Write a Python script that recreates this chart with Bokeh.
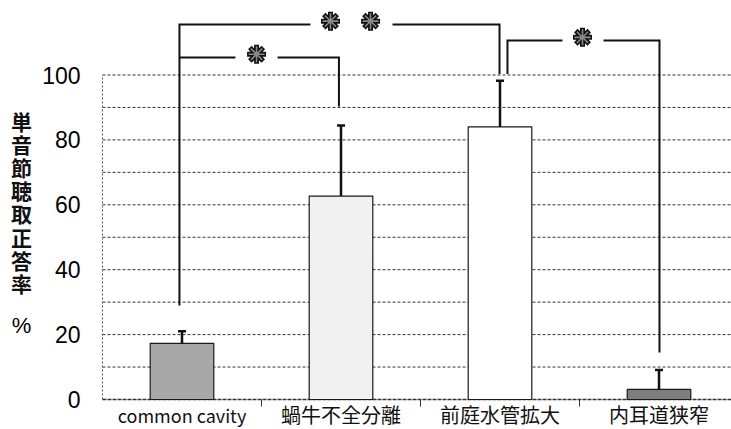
from bokeh.plotting import figure
from bokeh.models import Range1d, ColumnDataSource
from bokeh.core.properties import value
from bokeh.embed import file_html
from bokeh.resources import INLINE

# Mean monosyllable recognition score (%) per inner-ear malformation, with upper SD
categories = ["common cavity", "蝸牛不全分離", "前庭水管拡大", "内耳道狭窄"]
means = [17.3, 62.7, 84.0, 3.1]
upper = [21.0, 84.4, 98.2, 9.1]
bar_colors = ["#a8a8a8", "#f1f1f1", "#ffffff", "#7e7e7e"]
label_sizes = ["18px", "20px", "20px", "20px"]

y_ticks = [0, 20, 40, 60, 80, 100]
grid_ticks = [10, 20, 30, 40, 50, 60, 70, 80, 90, 100]
y_title_chars = list("単音節聴取正答率")
y_unit = "%"

# Significance brackets: number of stars, span, height, leg ends, gap for stars
stars = [2, 1, 1]
bracket_x0 = [0.484, 0.484, 2.547]
bracket_x1 = [2.497, 1.487, 3.503]
bracket_y = [115.6, 105.4, 110.6]
bracket_y0 = [29.0, 105.4, 100.3]
bracket_y1 = [100.3, 90.3, 14.5]
gap_x0 = [1.308, 0.836, 2.893]
gap_x1 = [1.824, 1.101, 3.151]
star_x = [[1.434, 1.686], [0.969], [3.019]]

n = len(categories)
xs = [i + 0.5 for i in range(n)]

# Canvas geometry: the plotting frame fills the whole page, axes are drawn by hand
W, H = 731, 429
X0_PX, PX_PER_CAT = 102, 159      # canvas column of x = 0, pixels per category
Y0_PX, PX_PER_UNIT = 399, 3.245   # canvas row of y = 0, pixels per percentage point


def x_at(col):
    return (col - X0_PX) / PX_PER_CAT


def y_at(row):
    return (Y0_PX - row) / PX_PER_UNIT


p = figure(width=W, height=H, output_backend="svg", toolbar_location=None,
           x_axis_location=None, y_axis_location=None,
           x_range=Range1d(x_at(0), x_at(W)), y_range=Range1d(y_at(H), y_at(0)),
           min_border=0)
p.outline_line_color = None
p.grid.visible = False
p.background_fill_color = "white"
p.border_fill_color = "white"

x_end = x_at(W)

# horizontal grid lines
p.segment(x0=[0] * len(grid_ticks), y0=grid_ticks, x1=[x_end] * len(grid_ticks),
          y1=grid_ticks, line_color="#333333", line_dash="3 2", line_width=1)

# dotted left border and bottom axis line
p.segment(x0=[0], y0=[0], x1=[0], y1=[y_ticks[-1]], line_color="#555555",
          line_dash="2 2", line_width=1)
p.segment(x0=[0], y0=[0], x1=[x_end], y1=[0], line_color="#333333",
          line_dash="4 1", line_width=1.5)

# category separators below the axis
seps = list(range(1, n))
p.segment(x0=seps, y0=[0] * len(seps), x1=seps, y1=[-7 / PX_PER_UNIT] * len(seps),
          line_color="#333333", line_width=1)

# y tick labels
p.text(x=[x_at(80)] * len(y_ticks), y=y_ticks, text=[str(t) for t in y_ticks],
       text_align="right", text_baseline="middle",
       text_font=value("Liberation Sans"), text_font_size=value("23px"),
       text_color="#000000")

# bars
src = ColumnDataSource(dict(x=xs, top=means, upper=upper, color=bar_colors,
                            name=categories, size=label_sizes))
p.vbar(x="x", top="top", bottom=0, width=0.40, fill_color="color",
       line_color="#1a1a1a", line_width=1.2, source=src)

# upper error bars
p.segment(x0="x", y0="top", x1="x", y1="upper", line_color="#111111",
          line_width=2.5, source=src)
p.scatter(x="x", y="upper", marker="dash", size=8, line_color="#111111",
          line_width=2.5, source=src)

# category names under the axis
p.text(x="x", y=y_at(414), text="name", text_align="center", text_baseline="middle",
       text_font=value("Noto Sans CJK JP"), text_font_size="size",
       text_color="#111111", source=src)

# significance brackets
paths_x, paths_y = [], []
for i in range(len(stars)):
    paths_x.append([bracket_x0[i], bracket_x0[i], gap_x0[i]])
    paths_y.append([bracket_y0[i], bracket_y[i], bracket_y[i]])
    paths_x.append([gap_x1[i], bracket_x1[i], bracket_x1[i]])
    paths_y.append([bracket_y[i], bracket_y[i], bracket_y1[i]])
p.multi_line(xs=paths_x, ys=paths_y, line_color="#111111", line_width=2,
             line_join="miter")

sx, sy = [], []
for i in range(len(stars)):
    for x in star_x[i]:
        sx.append(x)
        sy.append(bracket_y[i] + 1.0)
p.scatter(x=sx, y=sy, marker="asterisk", size=19, line_color="#111111", line_width=5)
p.scatter(x=sx, y=sy, marker="asterisk", size=16, line_color="#8a8a8a", line_width=1.6)

# vertical y-axis title, one character per line, then the unit
title_x = x_at(21)
p.text(x=[title_x] * len(y_title_chars),
       y=[y_at(120 + 23.2 * k) for k in range(len(y_title_chars))],
       text=y_title_chars, text_align="center", text_baseline="middle",
       text_font=value("Noto Sans CJK JP"), text_font_size=value("21px"),
       text_font_style="bold", text_color="#111111")
p.text(x=[title_x], y=[y_at(325)], text=[y_unit], text_align="center",
       text_baseline="middle", text_font=value("Liberation Sans"),
       text_font_size=value("22px"), text_color="#000000")

open("out.html", "w").write(file_html(p, INLINE))
